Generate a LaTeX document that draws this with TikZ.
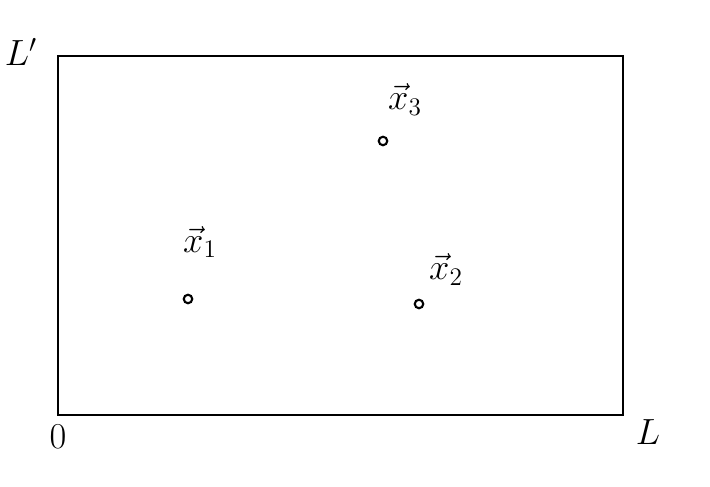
\documentclass[tikz,border=0pt]{standalone}
\usepackage{amsmath, amssymb}
\usetikzlibrary{arrows.meta,calc}

\begin{document}
\begin{tikzpicture}[scale=1.0, >=stealth]
    \useasboundingbox (0,0) rectangle (14.2,9.74);
    \tikzset{
        pt/.style={circle, draw, line width=1.2pt, inner sep=0pt, minimum size=1.7mm},
        lbl/.style={font=\huge},
    }

    % domain box
    \draw[line width=1.2pt] (1.16,1.44) rectangle (12.46,8.62);

    % corner labels
    \node[lbl] (origin) at (1.16,1.0) {\(0\)};
    \node[lbl] (lend) at (12.96,1.1) {\(L\)};
    \node[lbl] (ltop) at (0.42,8.7) {\(L'\)};

    % particles
    \node[pt] (p1) at (3.76,3.76) {};
    \node[pt] (p2) at (8.38,3.66) {};
    \node[pt] (p3) at (7.66,6.92) {};

    \node[lbl] (x1) at (4.0,4.9) {\(\vec{x}_1\)};
    \node[lbl] (x2) at (8.92,4.35) {\(\vec{x}_2\)};
    \node[lbl] (x3) at (8.1,7.75) {\(\vec{x}_3\)};
\end{tikzpicture}
\end{document}
